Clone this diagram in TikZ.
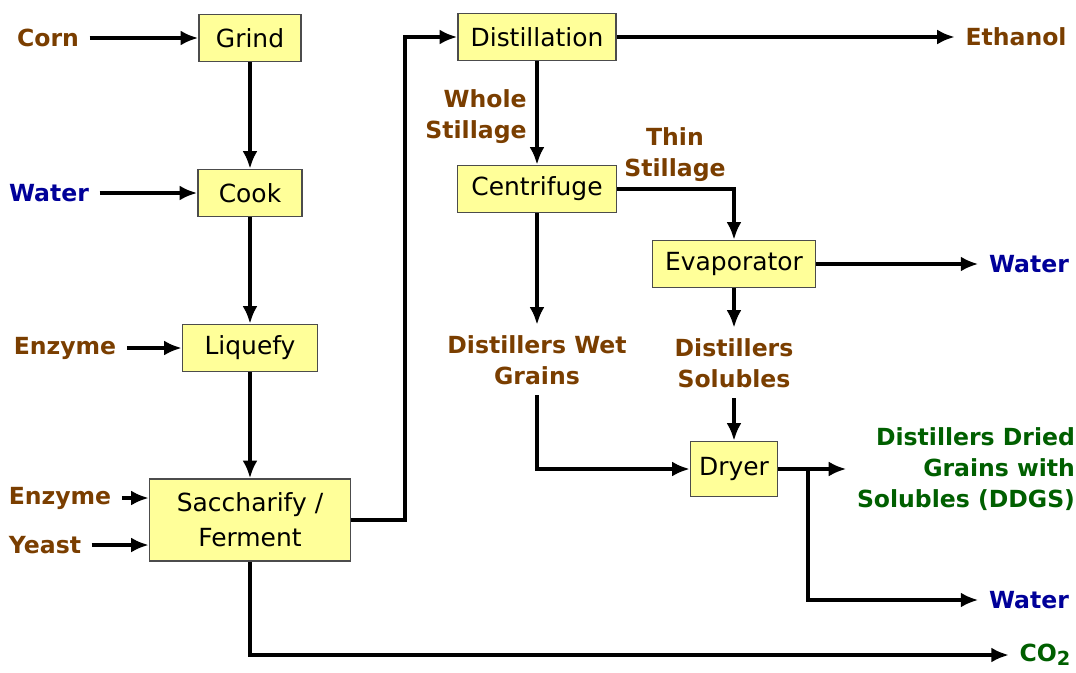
\documentclass[tikz,border=0pt]{standalone}
\usepackage{fontspec}
\setmainfont{DejaVu Sans}
\usetikzlibrary{arrows.meta}
\definecolor{labbrown}{RGB}{122,62,0}
\definecolor{labblue}{RGB}{0,0,153}
\definecolor{labgreen}{RGB}{0,95,0}
\definecolor{boxfill}{RGB}{255,255,153}
\begin{document}
\begin{tikzpicture}[>={Latex[length=10pt,width=8.5pt]},line width=2.2pt,x=0.02cm,y=-0.02cm,
        box/.style={draw=black!70,line width=0.9pt,fill=boxfill,minimum height=0.94cm,inner sep=2pt,
            font=\fontsize{14.2}{19.8}\selectfont,align=center},
        lab/.style={font=\fontsize{13.4}{17.6}\selectfont\bfseries,text=labbrown,inner sep=5pt},
        wat/.style={lab,text=labblue},
        prod/.style={lab,text=labgreen}]
        \useasboundingbox (0,0) rectangle (1076,673);
        % process boxes
        \node[box,minimum width=2.04cm] (grind) at (250,38) {Grind};
        \node[box,minimum width=2.08cm] (cook) at (250,193) {Cook};
        \node[box,minimum width=2.7cm] (liquefy) at (250,348) {Liquefy};
        \node[box,minimum width=4.02cm,minimum height=1.64cm] (sacch) at (250,520) {Saccharify /\\Ferment};
        \node[box,minimum width=3.16cm] (distil) at (537,37) {Distillation};
        \node[box,minimum width=3.18cm] (centri) at (537,189) {Centrifuge};
        \node[box,minimum width=3.26cm] (evap) at (734,264) {Evaporator};
        \node[box,minimum width=1.74cm,minimum height=1.1cm] (dryer) at (734,469) {Dryer};
        % inputs
        \node[lab] (corn) at (48,38) {Corn};
        \node[wat] (water1) at (49,193) {Water};
        \node[lab] (enz1) at (65,348) {Enzyme};
        \node[lab] (enz2) at (60,498) {Enzyme};
        \node[lab] (yeast) at (45,545) {Yeast};
        % streams and products
        \node[lab] (ethanol) at (1016,37) {Ethanol};
        \node[lab,align=right] (whole) at (476,117) {Whole\\Stillage};
        \node[lab,align=center] (thin) at (675,155) {Thin\\Stillage};
        \node[wat] (water2) at (1029,264) {Water};
        \node[lab,align=center] (wet) at (537,360) {Distillers Wet\\Grains};
        \node[lab,align=center] (sol) at (734,363) {Distillers\\Solubles};
        \node[prod,align=right] (ddgs) at (966,469) {Distillers Dried\\Grains with\\Solubles (DDGS)};
        \node[wat] (water3) at (1029,600) {Water};
        \node[prod] (co2) at (1045,655) {CO\raisebox{-0.35ex}{\fontsize{11}{11}\selectfont 2}};
        \coordinate (split) at (808,469);
        % connectors
        \draw[->] (corn) -- (grind);
        \draw[->] (grind) -- (cook);
        \draw[->] (water1) -- (cook);
        \draw[->] (cook) -- (liquefy);
        \draw[->] (enz1) -- (liquefy);
        \draw[->] (liquefy) -- (sacch);
        \draw[->] (enz2) -- (sacch.west |- enz2);
        \draw[->] (yeast) -- (sacch.west |- yeast);
        \draw[->] (sacch.east) -- ++(54,0) |- (distil.west);
        \draw[->] (distil) -- (ethanol);
        \draw[->] (distil) -- (centri);
        \draw[->] (centri.east) -| (evap.north);
        \draw[->] (evap) -- (water2);
        \draw[->] (centri) -- (wet);
        \draw[->] (evap) -- (sol);
        \draw[->] (sol) -- (dryer);
        \draw[->] (wet) |- (dryer);
        \draw[->] (dryer) -- (ddgs);
        \draw[->] (split) |- (water3);
        \draw[->] (sacch) |- (co2);
    \end{tikzpicture}
\end{document}
